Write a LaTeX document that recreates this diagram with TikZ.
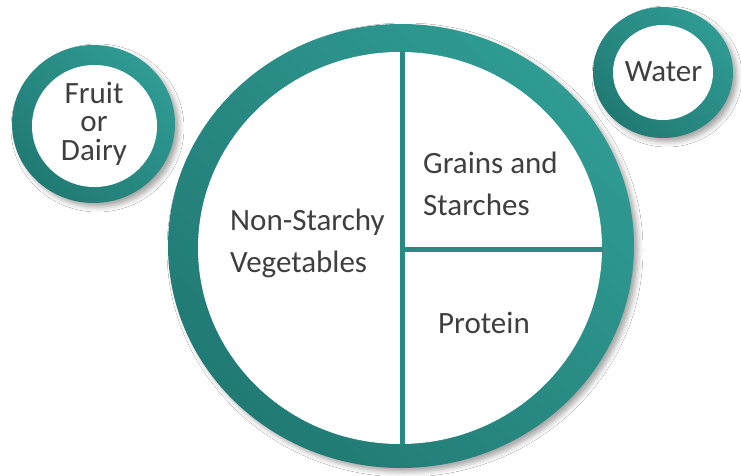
\documentclass[tikz,border=0pt]{standalone}
\usepackage{fontspec}
\setmainfont{Carlito}
\usetikzlibrary{shadows.blur}
\definecolor{tealdark}{HTML}{217A74}
\definecolor{teallight}{HTML}{2F9B93}
\definecolor{tealline}{HTML}{2A8A83}
\definecolor{labelgray}{HTML}{3F3F3F}
\begin{document}
\begin{tikzpicture}[x=1pt,y=-1pt,
  ring/.style={bottom color=tealdark, top color=teallight, shading angle=-45},
  plateshadow/.style={blur shadow={shadow xshift=4pt, shadow yshift=-4pt, shadow blur radius=5pt, shadow opacity=35}},
  divider/.style={draw=tealline, line width=5pt},
  lbl/.style={text=labelgray, inner sep=0pt, align=left},
  big/.style={lbl, font=\fontsize{31}{41.5}\selectfont},
  small/.style={lbl, align=center, font=\fontsize{31}{28.5}\selectfont}]
\useasboundingbox (0,0) rectangle (741,476);
\fill[white] (0,0) rectangle (741,476);
% main plate
\path[ring, plateshadow] (401,246) ellipse [x radius=233, y radius=222];
\fill[white] (400,248) ellipse [x radius=202, y radius=196];
\coordinate (vtop) at (402.5,50);
\coordinate (vbot) at (402.5,446);
\coordinate (hmid) at (402.5,249.5);
\coordinate (hright) at (604,249.5);
\begin{scope}
  \clip (400,248) ellipse [x radius=203, y radius=197];
  \draw[divider] (vtop) -- (vbot);
  \draw[divider] (hmid) -- (hright);
\end{scope}
% side circles
\path[ring, plateshadow] (93.5,124) ellipse [x radius=81.5, y radius=79];
\fill[white] (94.5,126) ellipse [x radius=62.5, y radius=61];
\path[ring, plateshadow] (663,72.5) ellipse [x radius=70, y radius=65.5];
\fill[white] (663,72.5) ellipse [x radius=50, y radius=47.5];
% labels (base anchor = baseline of the last line)
\node[big, anchor=base west] (grains) at (423,215) {Grains and\\Starches};
\node[big, anchor=base west] (veg) at (230,272) {Non-Starchy\\Vegetables};
\node[big, anchor=base west] (protein) at (438,333) {Protein};
\node[small, anchor=base] (fruit) at (94,160) {Fruit\\or\\Dairy};
\node[big, anchor=base] (water) at (663.5,82) {Water};
\end{tikzpicture}
\end{document}
